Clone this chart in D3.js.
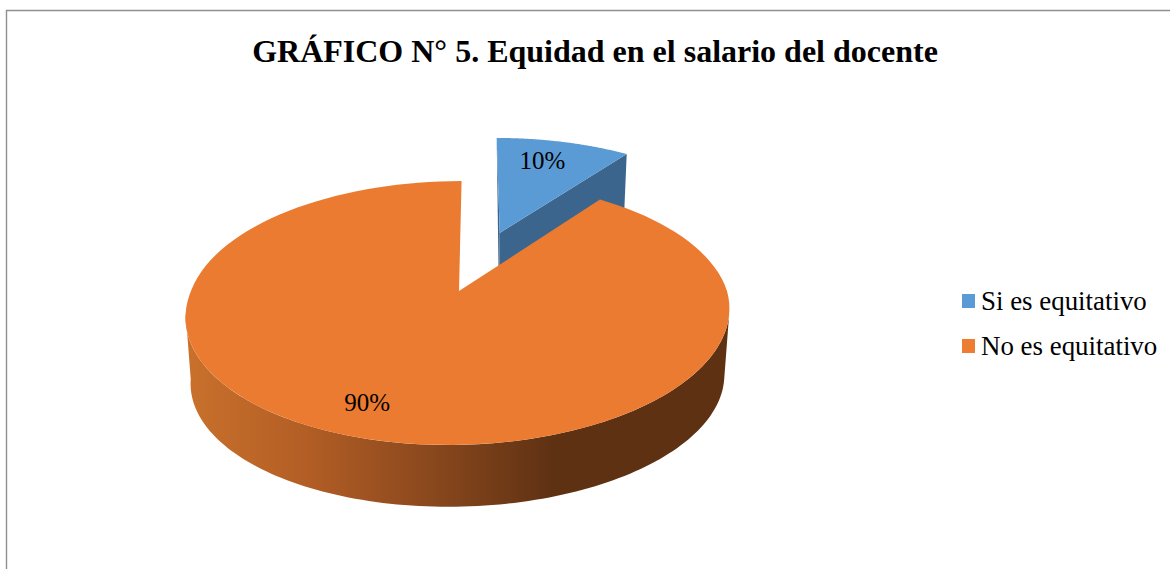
<!DOCTYPE html>
<html>
<head>
<meta charset="utf-8">
<script src="https://cdn.jsdelivr.net/npm/d3@7"></script>
<style>
  html, body { margin: 0; padding: 0; background: #fff; }
  svg { display: block; }
  text { font-family: "Liberation Serif", serif; fill: #000; }
</style>
</head>
<body>
<div id="chart"></div>
<script>
var chartTitle = "GRÁFICO N° 5. Equidad en el salario del docente";
var categories = ["Si es equitativo", "No es equitativo"];
var values = [10, 90];
var valueLabels = ["10%", "90%"];
var colors = ["#5b9bd5", "#ed7d31"];

var width = 1170, height = 569;

/* 3d look of the pie: top face and floor ring, both with the same perspective */
var persp = 1 / 6;
var top3d = { x0: 459, y0: 291, bx: 268, by: 128.3 };
var floor3d = { x0: 459, y0: 358, bx: 263, by: 124 };
var explode = 0.514;
var skewBack = -3, skewFront = -9;

var svg = d3.select("#chart").append("svg")
    .attr("width", width)
    .attr("height", height);

// frame, only top and left show in the picture
svg.append("path")
    .attr("d", "M6.5 569V10.5H1170")
    .attr("fill", "none")
    .attr("stroke", "#8f8f8f")
    .attr("stroke-width", 1.4);

svg.append("text")
    .attr("x", 595)
    .attr("y", 62)
    .attr("text-anchor", "middle")
    .attr("font-weight", "bold")
    .attr("font-size", 32)
    .text(chartTitle);

var arcs = d3.pie().sort(null)(values);
var angle = d3.scaleLinear().domain([0, 1]);

function project(face, a, r, off) {
    var u = r * Math.sin(a) + off * Math.sin(off ? blueMid : 0);
    var v = -r * Math.cos(a) - off * Math.cos(off ? blueMid : 0);
    var d = 1 - persp * v;
    var skew = (v < 0 ? skewBack : skewFront) * v / d;
    return [face.x0 + skew + face.bx * u / d, face.y0 + face.by * v / d];
}

var blueMid = (arcs[0].startAngle + arcs[0].endAngle) / 2;
var line = d3.line();

function rim(face, a0, a1, off) {
    angle.range([a0, a1]);
    return d3.range(0, 1.0001, 1 / 120).map(function(t) {
        return project(face, angle(t), 1, off);
    });
}

function wedge(face, a0, a1, off) {
    return line([project(face, 0, 0, off)].concat(rim(face, a0, a1, off))) + "Z";
}

/* side wall gradient of the orange slice */
var defs = svg.append("defs");
var grad = defs.append("linearGradient")
    .attr("id", "wall")
    .attr("gradientUnits", "userSpaceOnUse")
    .attr("x1", 185).attr("x2", 729)
    .attr("y1", 0).attr("y2", 0);
var wallStops = [[0, "#c9712c"], [0.22, "#b35e25"], [0.45, "#8a481d"], [0.68, "#5e3113"], [1, "#5e3113"]];
grad.selectAll("stop").data(wallStops).enter().append("stop")
    .attr("offset", function(d) { return d[0]; })
    .attr("stop-color", function(d) { return d[1]; });

var blue = arcs[0], orange = arcs[1];

// blue slice, exploded, is behind the orange one
svg.append("path")
    .attr("d", line([project(top3d, blue.endAngle, 1, explode),
                     project(floor3d, blue.endAngle, 1, explode),
                     project(floor3d, 0, 0, explode),
                     project(top3d, 0, 0, explode)]) + "Z")
    .attr("fill", "#3c658e");
svg.append("path")
    .attr("d", line([project(top3d, 0, 1, explode),
                     project(floor3d, 0, 0, explode),
                     project(top3d, 0, 0, explode)]) + "Z")
    .attr("fill", "#3c658e");
svg.append("path")
    .attr("d", wedge(top3d, blue.startAngle, blue.endAngle, explode))
    .attr("fill", colors[0]);

// orange wall between the two widest points of the rim
var wideRight = Math.acos(-persp), wideLeft = 2 * Math.PI - wideRight;
svg.append("path")
    .attr("d", line(rim(top3d, wideRight, wideLeft, 0).concat(rim(floor3d, wideLeft, wideRight, 0))) + "Z")
    .attr("fill", "url(#wall)");
svg.append("path")
    .attr("d", wedge(top3d, orange.startAngle, orange.endAngle, 0))
    .attr("fill", "#ea7b30");

/* value labels */
var labelSpot = [{ r: 0.76, shift: -0.045, off: explode }, { r: 0.81, shift: 0.03, off: 0 }];
svg.selectAll(".val").data(arcs).enter().append("text")
    .attr("class", "val")
    .attr("font-size", 25)
    .attr("text-anchor", "middle")
    .attr("x", function(d, i) {
        return project(top3d, (d.startAngle + d.endAngle) / 2 + labelSpot[i].shift, labelSpot[i].r, labelSpot[i].off)[0];
    })
    .attr("y", function(d, i) {
        return project(top3d, (d.startAngle + d.endAngle) / 2 + labelSpot[i].shift, labelSpot[i].r, labelSpot[i].off)[1] + 8;
    })
    .text(function(d, i) { return valueLabels[i]; });

/* legend */
var legendY = d3.scalePoint().domain(categories).range([301, 346]);
var legend = svg.selectAll(".legend").data(categories).enter().append("g")
    .attr("class", "legend")
    .attr("transform", function(d) { return "translate(962," + legendY(d) + ")"; });
legend.append("rect")
    .attr("y", -7)
    .attr("width", 13)
    .attr("height", 14)
    .attr("fill", function(d, i) { return colors[i]; });
legend.append("text")
    .attr("x", 19)
    .attr("y", 9)
    .attr("font-size", 26.9)
    .text(function(d) { return d; });
</script>
</body>
</html>
